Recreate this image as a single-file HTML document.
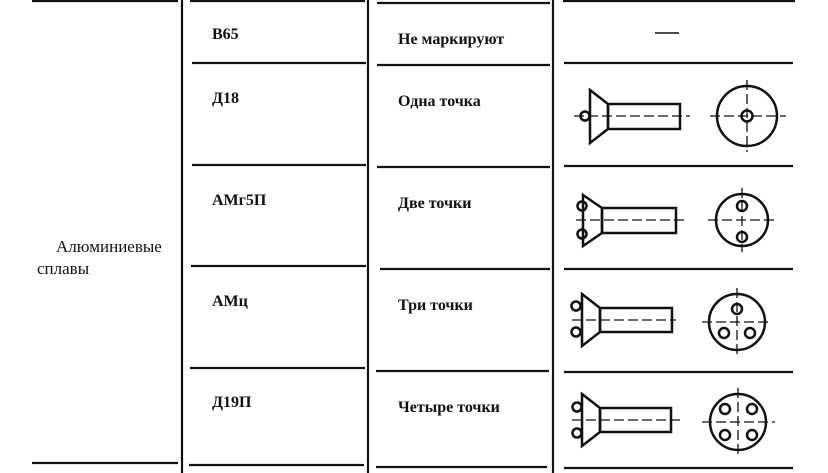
<!DOCTYPE html>
<html><head><meta charset="utf-8"><style>
html,body{margin:0;padding:0;background:#fff;}
svg{display:block}
text{font-family:"Liberation Serif","DejaVu Serif",serif;font-size:16px;font-weight:bold;fill:#111}
</style></head><body>
<svg width="828" height="473" viewBox="0 0 828 473" xmlns="http://www.w3.org/2000/svg">
<g stroke="#111" stroke-width="2.2" fill="none">
<line x1="182" y1="0" x2="182" y2="473"/>
<line x1="368" y1="0" x2="368" y2="473"/>
<line x1="553" y1="0" x2="553" y2="473"/>
<line x1="32" y1="1" x2="178" y2="1"/>
<line x1="32" y1="463" x2="178" y2="463"/>
<line x1="190" y1="1" x2="365" y2="1"/>
<line x1="192" y1="63" x2="366" y2="63"/>
<line x1="192" y1="165" x2="366" y2="165"/>
<line x1="191" y1="266" x2="366" y2="266"/>
<line x1="190" y1="368" x2="365" y2="368"/>
<line x1="189" y1="465" x2="364" y2="465"/>
<line x1="377" y1="3" x2="550" y2="3"/>
<line x1="377" y1="65" x2="550" y2="65"/>
<line x1="377" y1="167" x2="550" y2="167"/>
<line x1="380" y1="269" x2="550" y2="269"/>
<line x1="376" y1="371" x2="549" y2="371"/>
<line x1="376" y1="467" x2="547" y2="467"/>
<line x1="563" y1="1" x2="795" y2="1"/>
<line x1="564" y1="63" x2="793" y2="63"/>
<line x1="564" y1="166" x2="793" y2="166"/>
<line x1="564" y1="269" x2="793" y2="269"/>
<line x1="564" y1="372" x2="793" y2="372"/>
<line x1="564" y1="468" x2="793" y2="468"/>
<line x1="655" y1="33" x2="679" y2="33" stroke-width="1.6"/>
</g>
<text x="212" y="39">В65</text>
<text x="212" y="103">Д18</text>
<text x="212" y="205">АМг5П</text>
<text x="212" y="306">АМц</text>
<text x="212" y="407">Д19П</text>
<text x="56" y="252" style="font-weight:normal;font-size:17px">Алюминиевые</text>
<text x="37" y="274" style="font-weight:normal;font-size:17px">сплавы</text>
<text x="398" y="44">Не маркируют</text>
<text x="398" y="106">Одна точка</text>
<text x="398" y="208">Две точки</text>
<text x="398" y="310">Три точки</text>
<text x="398" y="412">Четыре точки</text>

<g stroke="#111" fill="none">
<g stroke-width="2.5">
<polygon points="590,90 608,104 608,129 590,143"/>
<rect x="608" y="104" width="72" height="25"/>
<circle cx="747" cy="116" r="30"/>
<circle cx="585" cy="116" r="4.5"/>
<circle cx="747" cy="116" r="5.5"/>
</g>
<g stroke-width="1.3" stroke-dasharray="10,4">
<line x1="574" y1="116" x2="690" y2="116"/>
<line x1="710" y1="116" x2="786" y2="116"/>
<line x1="747" y1="80" x2="747" y2="152"/>
</g>
<g stroke-width="2.5">
<polygon points="583,195 602,208 602,233 583,246"/>
<rect x="602" y="208" width="74" height="25"/>
<circle cx="742" cy="220" r="26"/>
<circle cx="582" cy="206" r="4.5"/>
<circle cx="582" cy="234" r="4.5"/>
<circle cx="742" cy="206" r="5"/>
<circle cx="742" cy="237" r="5"/>
</g>
<g stroke-width="1.3" stroke-dasharray="10,4">
<line x1="576" y1="220" x2="684" y2="220"/>
<line x1="708" y1="220" x2="778" y2="220"/>
<line x1="742" y1="188" x2="742" y2="252"/>
</g>
<g stroke-width="2.5">
<polygon points="582,294 600,308 600,332 582,346"/>
<rect x="600" y="308" width="72" height="24"/>
<circle cx="737" cy="322" r="28"/>
<circle cx="576" cy="306" r="4.5"/>
<circle cx="576" cy="332" r="4.5"/>
<circle cx="737" cy="309" r="5"/>
<circle cx="724" cy="333" r="5"/>
<circle cx="750" cy="333" r="5"/>
</g>
<g stroke-width="1.3" stroke-dasharray="10,4">
<line x1="572" y1="320" x2="676" y2="320"/>
<line x1="702" y1="322" x2="772" y2="322"/>
<line x1="737" y1="288" x2="737" y2="356"/>
</g>
<g stroke-width="2.5">
<polygon points="582,394 600,408 600,432 582,446"/>
<rect x="600" y="408" width="71" height="24"/>
<circle cx="738" cy="422" r="28"/>
<circle cx="577" cy="407" r="4.5"/>
<circle cx="577" cy="433" r="4.5"/>
<circle cx="725" cy="409" r="5"/>
<circle cx="752" cy="409" r="5"/>
<circle cx="725" cy="435" r="5"/>
<circle cx="752" cy="435" r="5"/>
</g>
<g stroke-width="1.3" stroke-dasharray="10,4">
<line x1="572" y1="420" x2="680" y2="420"/>
<line x1="702" y1="422" x2="775" y2="422"/>
<line x1="738" y1="388" x2="738" y2="456"/>
</g>
</g>
</svg>
</body></html>
